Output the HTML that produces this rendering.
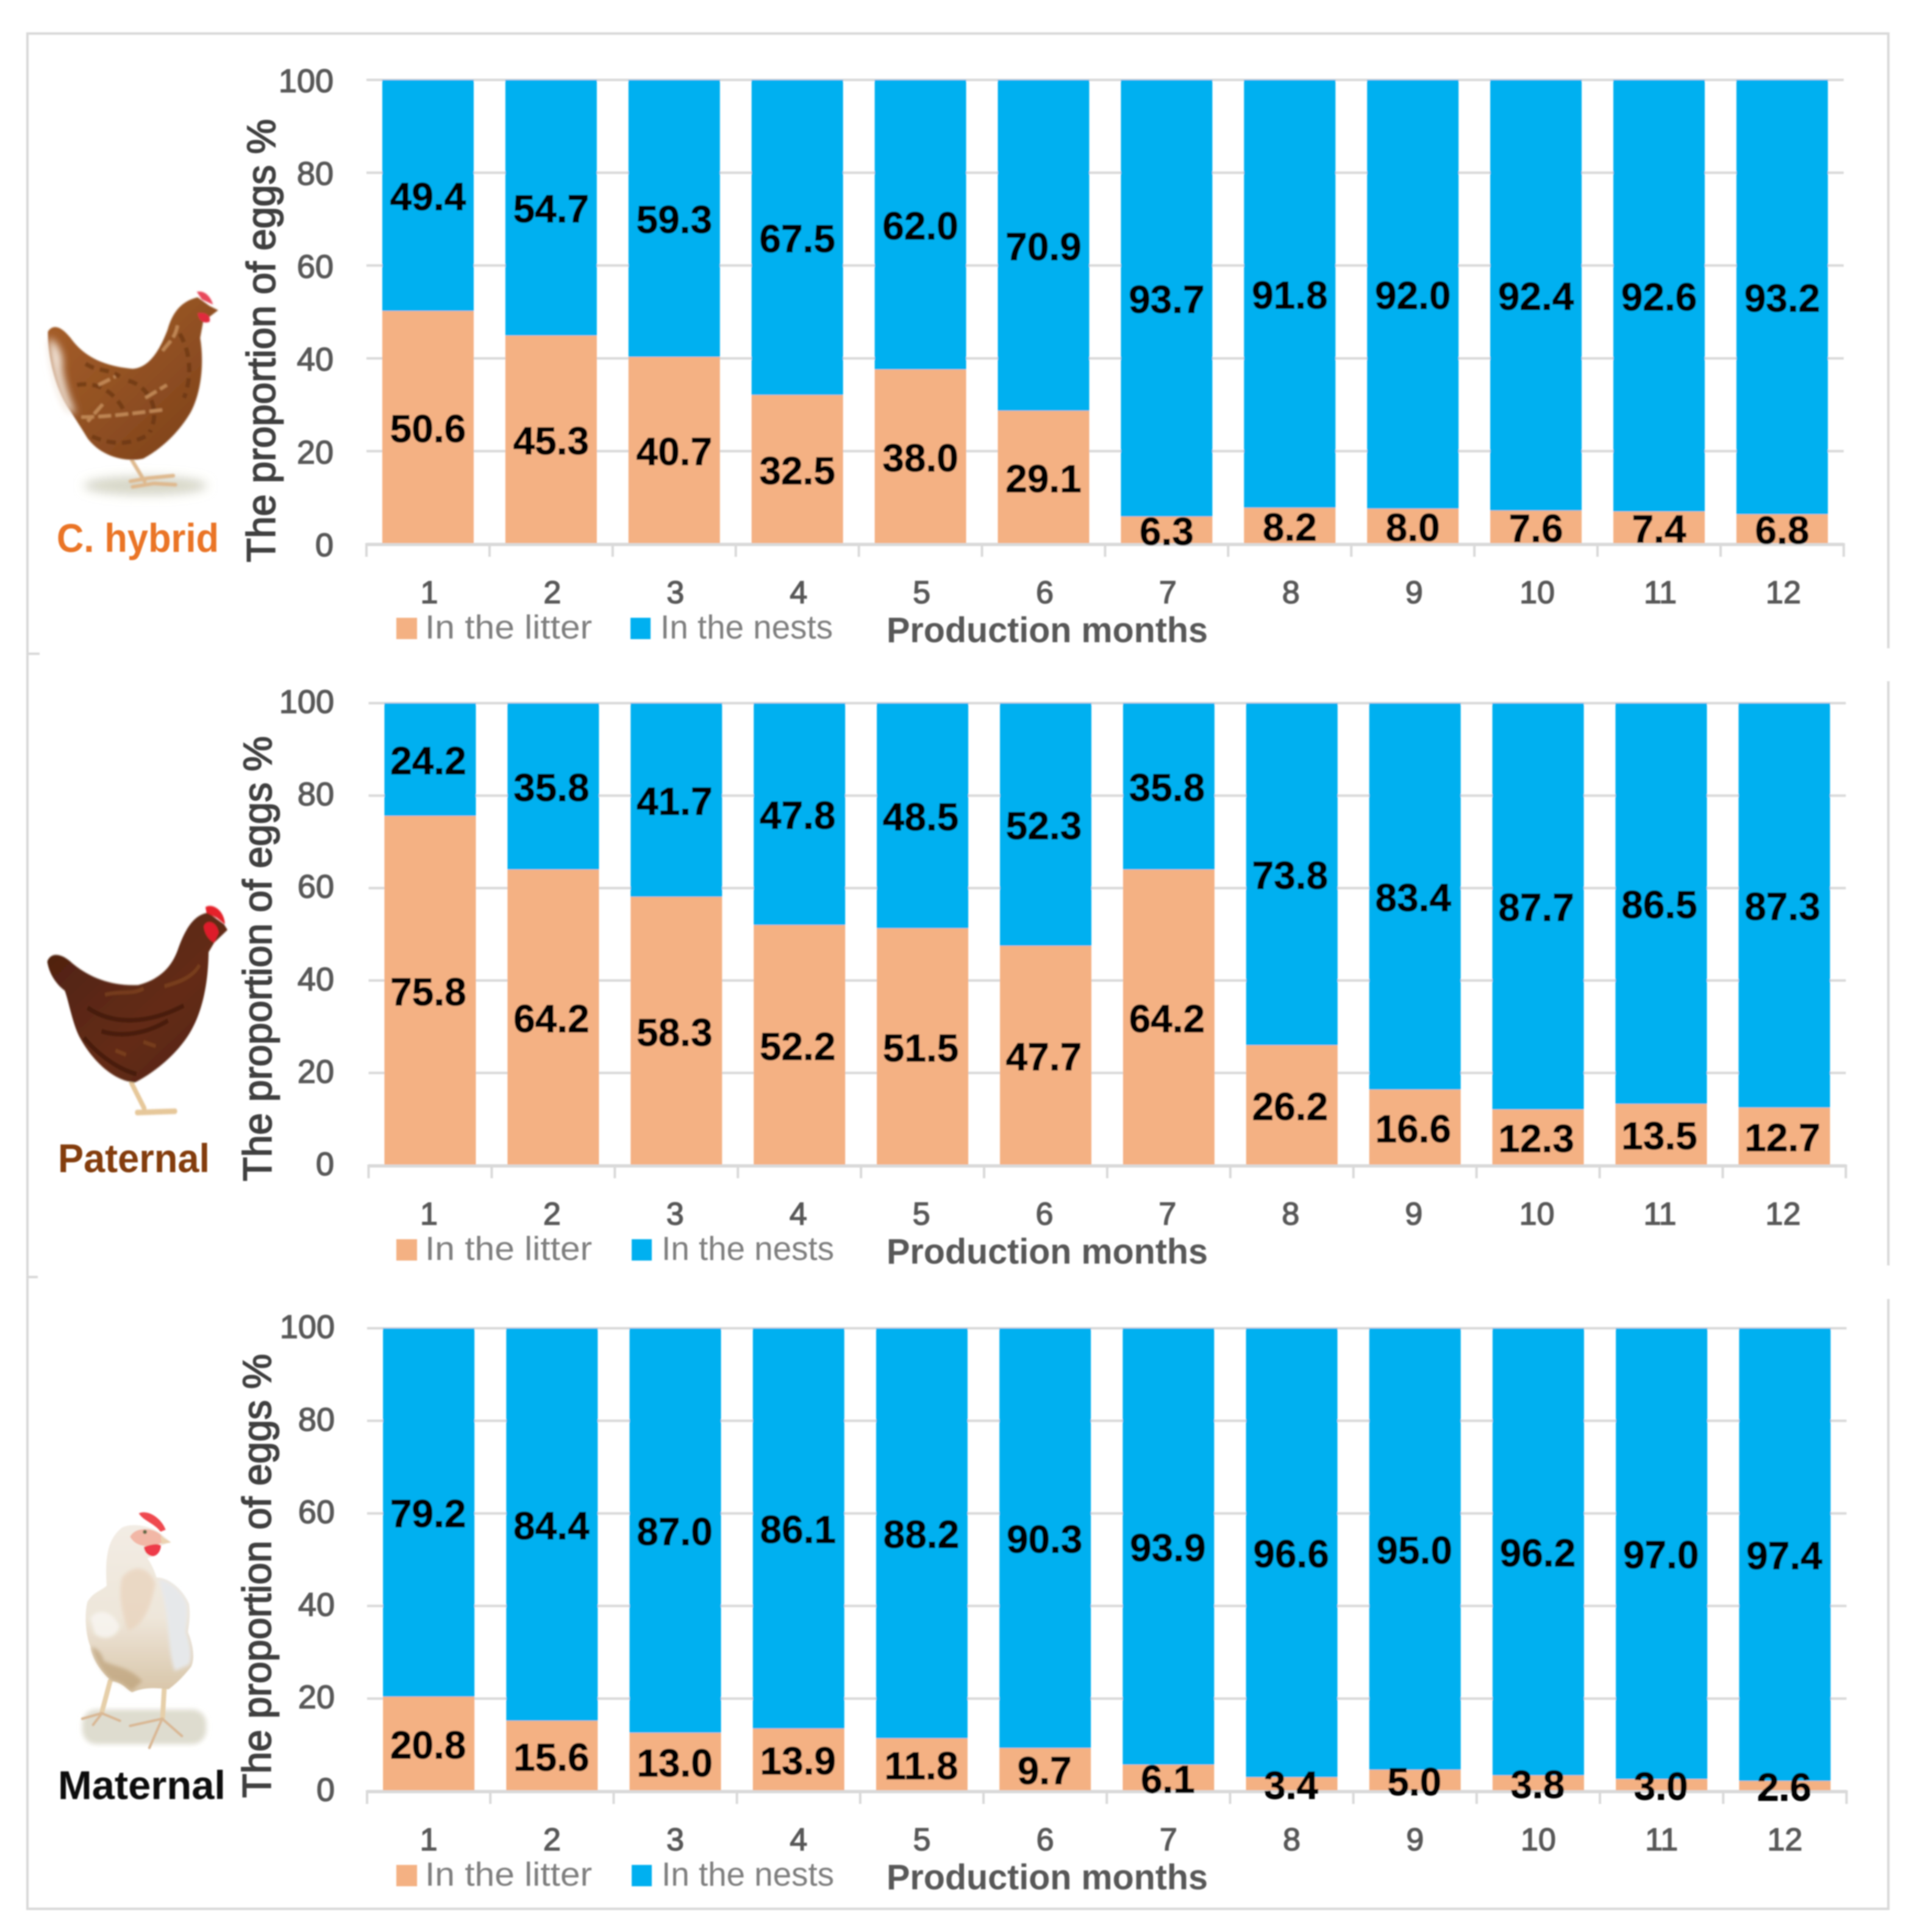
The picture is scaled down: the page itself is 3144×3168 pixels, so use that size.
<!DOCTYPE html>
<html lang="en">
<head>
<meta charset="utf-8">
<title>Proportion of eggs in the litter and in the nests by production month</title>
<style>
html,body{margin:0;padding:0;background:#fff;width:3144px;height:3168px;overflow:hidden}
svg{display:block}
text{font-family:"Liberation Sans",Arial,sans-serif}
</style>
</head>
<body>
<svg id="figure" xmlns="http://www.w3.org/2000/svg" width="3144" height="3168" viewBox="0 0 3144 3168">
<defs>
<filter id="soft" x="-2%" y="-2%" width="104%" height="104%"><feGaussianBlur stdDeviation="1"/></filter>
<filter id="softHen" x="-10%" y="-10%" width="120%" height="120%"><feGaussianBlur stdDeviation="1.6"/></filter>
<filter id="patchBlur" x="-30%" y="-30%" width="160%" height="160%"><feGaussianBlur stdDeviation="9"/></filter>
<filter id="shadowBlur" x="-30%" y="-60%" width="160%" height="220%"><feGaussianBlur stdDeviation="12"/></filter>
<linearGradient id="hybridBody" x1="0" y1="0" x2="1" y2="1"><stop offset="0" stop-color="#a9602a"/><stop offset=".55" stop-color="#8f4f22"/><stop offset="1" stop-color="#7a3d18"/></linearGradient>
<linearGradient id="paternalBody" x1="0" y1="0" x2="1" y2="1"><stop offset="0" stop-color="#4a1f10"/><stop offset=".6" stop-color="#642c14"/><stop offset="1" stop-color="#4d2010"/></linearGradient>
<linearGradient id="maternalBody" x1="0" y1="0" x2="0" y2="1"><stop offset="0" stop-color="#f3ece4"/><stop offset=".55" stop-color="#eee6da"/><stop offset="1" stop-color="#d8c5a8"/></linearGradient>
</defs>
<g id="root" filter="url(#soft)">
<g id="frame" stroke="#d9d9d9" stroke-width="4" fill="none">
<path d="M3097 1063V55H45V3130H3097V2130"/>
<path d="M3097 1117V2075"/>
<path d="M45 1072H65"/>
<path d="M45 2094H62"/>
</g>
<g id="charts"></g>

<g transform="scale(0.7015)" filter="url(#softHen)">
<ellipse cx="340" cy="1135" rx="145" ry="22" fill="#d5d5c6" filter="url(#shadowBlur)"/>
<path d="M305 1070L338 1125M305 1125L345 1118L405 1112M310 1138L360 1130L410 1133" stroke="#dfb98e" stroke-width="9" fill="none" stroke-linecap="round"/>
<path fill="url(#hybridBody)" d="M112 775C125 755 145 765 165 790C190 825 230 855 310 862C350 860 375 815 392 770C402 735 420 705 462 695L490 715L510 725L475 752L468 790C478 850 470 920 445 965C415 1015 375 1050 335 1072C290 1082 235 1065 205 1025C190 1000 180 985 160 955C130 910 110 830 112 775Z"/>
<path fill="#f3e6da" filter="url(#patchBlur)" d="M114 790C135 800 150 830 145 860C150 900 165 940 178 968L155 960C130 915 112 840 114 790Z"/>
<path fill="none" stroke="#5f2e10" stroke-width="10" stroke-dasharray="22 14" opacity=".55" d="M180 900C230 890 270 920 290 960M300 890C340 900 380 950 350 1010M215 1020C260 1040 300 1040 340 1020M420 780C445 820 450 880 430 930M200 850C230 870 250 860 280 880"/>
<path fill="none" stroke="#d39c68" stroke-width="8" stroke-dasharray="30 10" opacity=".7" d="M190 975C250 975 320 965 380 958M240 945L205 985M380 820C395 800 410 790 415 760M230 900L270 880M340 930L390 900"/>
<path fill="#e8465a" d="M460 682C478 678 492 692 498 712L472 700Z"/>
<path fill="#e02c3c" d="M462 732C480 728 494 738 490 752C478 758 464 750 462 732Z"/>
</g>

<g transform="translate(0,1000) scale(0.574,0.7015)" filter="url(#softHen)">
<path d="M375 1105L412 1165M392 1175L500 1172" stroke="#e6c79a" stroke-width="13" fill="none" stroke-linecap="round"/>
<path fill="url(#paternalBody)" d="M135 822C145 800 175 802 205 825C255 860 320 880 395 877C450 865 490 840 510 790C530 745 555 712 595 708L640 735L650 748L612 778L596 800C595 870 580 935 545 985C510 1035 445 1080 385 1105C320 1100 260 1050 225 995C205 960 195 910 185 890C160 875 140 850 135 822Z"/>
<path fill="none" stroke="#2f1208" stroke-width="11" opacity=".5" d="M250 930C320 970 420 970 525 925M290 985C350 1000 420 990 480 960M240 1000C280 1040 340 1075 390 1085"/>
<path fill="none" stroke="#8a4a20" stroke-width="9" opacity=".55" d="M470 880C510 870 550 860 570 830M300 900C340 890 380 900 410 885M330 1030L360 1040M410 1010L445 1020"/>
<path fill="#e5202c" d="M587 695C605 685 640 700 643 735L620 720L590 708Z"/>
<path fill="#dd1f2a" d="M582 740C590 722 620 728 625 755L612 778C598 772 585 760 582 740Z"/>
</g>

<g transform="translate(60,2440) scale(0.3333)" filter="url(#softHen)">
<rect x="225" y="1090" width="610" height="170" rx="70" fill="#dedccf" filter="url(#shadowBlur)"/>
<path fill="none" stroke="#e6cfa9" stroke-width="24" stroke-linecap="round" d="M362 950L322 1100M628 990L620 1130"/>
<path fill="none" stroke="#d9b894" stroke-width="13" stroke-linecap="round" d="M225 1135L320 1108L410 1145M320 1110L278 1165M460 1170L618 1135L715 1220M618 1135L555 1278"/>
<path fill="url(#maternalBody)" d="M345 480C335 340 350 250 420 195C470 170 550 185 600 215L660 265L610 285C600 325 565 340 545 345C570 380 585 420 590 440C650 440 720 500 750 570C760 640 745 690 745 710C770 770 780 840 760 880C720 930 690 960 650 990C600 985 540 975 470 1005C440 990 430 960 370 950C310 900 270 830 265 780C240 720 235 620 250 560C280 510 320 505 345 480Z"/>
<path fill="#e8d2ba" opacity=".7" filter="url(#patchBlur)" d="M420 440C490 360 560 400 585 470C560 600 520 680 450 700C420 620 400 520 420 440Z"/>
<path fill="#e6e8ea" filter="url(#patchBlur)" d="M600 450C650 450 715 505 740 570C745 640 735 700 735 710C760 770 768 840 750 870L680 900C640 800 660 620 600 450Z"/>
<path fill="#b89a70" opacity=".6" filter="url(#patchBlur)" d="M270 780C290 790 320 800 330 850C380 880 460 880 520 950L470 995C440 985 430 955 370 945C315 900 280 830 270 780Z"/>
<path fill="#f8f6f1" opacity=".85" filter="url(#patchBlur)" d="M265 640C300 590 370 600 410 680C390 745 320 750 285 715Z"/>
<path fill="#ef4a50" d="M503 125C540 105 610 140 635 205L610 215C575 170 530 165 503 125Z"/>
<path fill="#f2b7a6" d="M460 240C480 195 560 190 605 225L640 260L590 280C540 290 490 290 460 240Z"/>
<path fill="#ee3b48" d="M528 290C555 280 590 270 612 282C610 315 590 338 565 335C545 330 530 315 528 290Z"/>
<path fill="#ecd2b0" d="M610 235L662 268L615 275Z"/>
<circle cx="533" cy="216" r="10" fill="#5f6a45"/>
</g>

<text x="93" y="905" font-size="66" font-weight="bold" fill="#ea7428" textLength="266" lengthAdjust="spacingAndGlyphs">C. hybrid</text>
<text x="95" y="1922" font-size="66" font-weight="bold" fill="#843c0c" textLength="249" lengthAdjust="spacingAndGlyphs">Paternal</text>
<text x="95" y="2950" font-size="66" font-weight="bold" fill="#0a0a0a" textLength="275" lengthAdjust="spacingAndGlyphs">Maternal</text>
</g>
</svg>
<script>
const months = ['1','2','3','4','5','6','7','8','9','10','11','12'];
const yTicks = [0,20,40,60,80,100];

const hybridLitter = [50.6,45.3,40.7,32.5,38.0,29.1,6.3,8.2,8.0,7.6,7.4,6.8];
const hybridNests = [49.4,54.7,59.3,67.5,62.0,70.9,93.7,91.8,92.0,92.4,92.6,93.2];

const paternalLitter = [75.8,64.2,58.3,52.2,51.5,47.7,64.2,26.2,16.6,12.3,13.5,12.7];
const paternalNests = [24.2,35.8,41.7,47.8,48.5,52.3,35.8,73.8,83.4,87.7,86.5,87.3];

const maternalLitter = [20.8,15.6,13.0,13.9,11.8,9.7,6.1,3.4,5.0,3.8,3.0,2.6];
const maternalNests = [79.2,84.4,87.0,86.1,88.2,90.3,93.9,96.6,95.0,96.2,97.0,97.4];

const NS = 'http://www.w3.org/2000/svg';
const chartsLayer = document.getElementById('charts');

function svgEl(parent, tag, attrs, text) {
  const el = document.createElementNS(NS, tag);
  for (const key in attrs) el.setAttribute(key, attrs[key]);
  if (text !== undefined) el.textContent = text;
  parent.appendChild(el);
  return el;
}

function drawPanel(name, litter, nests, frame) {
  const yScale = v => frame.y0 - (v / 100) * (frame.y0 - frame.y100);
  const xBand = i => frame.x0 + i * frame.pitch;
  const xCenter = i => xBand(i) + frame.pitch / 2;
  const barWidth = 150;

  const panel = svgEl(chartsLayer, 'g', {});
  
  

  yTicks.forEach(t => {
    const grid = svgEl(panel, 'line', {x1: frame.x0, x2: xBand(months.length), y1: yScale(t), y2: yScale(t), stroke: '#d9d9d9', 'stroke-width': 4});
    
    
    const label = svgEl(panel, 'text', {x: frame.tickRight, y: yScale(t) + frame.tickDy, 'font-size': 54, fill: '#595959', stroke: '#595959', 'stroke-width': 1.5, 'text-anchor': 'end'}, String(t));
    
    
  });

  for (let i = 0; i <= months.length; i++) {
    const tick = svgEl(panel, 'line', {x1: xBand(i), x2: xBand(i), y1: frame.y0, y2: frame.y0 + 21, stroke: '#d9d9d9', 'stroke-width': 4});
    
    
  }

  const labels = [];
  months.forEach((month, i) => {
    const left = xCenter(i) - barWidth / 2;
    const litterTop = yScale(litter[i]) + frame.splitDrop;
    const nestTop = yScale(litter[i] + nests[i]);

    const litterBar = svgEl(panel, 'rect', {x: left, y: litterTop, width: barWidth, height: yScale(0) - litterTop, fill: '#f4b183'});
    
    

    const nestBar = svgEl(panel, 'rect', {x: left, y: nestTop, width: barWidth, height: litterTop - nestTop, fill: '#00b0f0'});
    
    

    labels.push({month: month, cx: xCenter(i) + frame.labelDx, cy: (yScale(0) + litterTop) / 2, value: litter[i], series: 'litter'});
    labels.push({month: month, cx: xCenter(i) + frame.labelDx, cy: (litterTop + nestTop) / 2, value: nests[i], series: 'nests'});

    const xLabel = svgEl(panel, 'text', {x: xCenter(i) + frame.xLabelDx, y: frame.y0 + 97, 'font-size': 52, fill: '#595959', stroke: '#595959', 'stroke-width': 1.5, 'text-anchor': 'middle'}, month);
    
    
  });

  const axis = svgEl(panel, 'line', {x1: frame.x0 - 2, x2: xBand(months.length) + 2, y1: frame.y0 + 1, y2: frame.y0 + 1, stroke: '#d9d9d9', 'stroke-width': 5});
  
  

  labels.forEach(item => {
    const valueLabel = svgEl(panel, 'text', {x: item.cx, y: item.cy + 24, 'font-size': 64, 'font-weight': 'bold', fill: '#050505', stroke: '#050505', 'stroke-width': 1, 'text-anchor': 'middle'}, item.value.toFixed(1));
    
    
  });

  const yTitle = svgEl(panel, 'text', {transform: 'translate(' + frame.titleX + ',' + frame.titleBottom + ') rotate(-90)', 'font-size': 66, fill: '#404040', stroke: '#404040', 'stroke-width': 1.8, textLength: frame.titleLength, lengthAdjust: 'spacingAndGlyphs'}, 'The proportion of eggs %');
  
  

  const xTitle = svgEl(panel, 'text', {x: 1454, y: frame.y0 + 161, 'font-size': 58, 'font-weight': 'bold', fill: '#595959', textLength: 527, lengthAdjust: 'spacingAndGlyphs'}, 'Production months');
  
  

  const litterSwatch = svgEl(panel, 'rect', {x: 650, y: frame.y0 + 121, width: 34, height: 35, fill: '#f4b183'});
  
  

  const litterLegend = svgEl(panel, 'text', {x: 697, y: frame.y0 + 155, 'font-size': 55, fill: '#7f7f7f', textLength: 274, lengthAdjust: 'spacingAndGlyphs'}, 'In the litter');
  
  

  const nestsSwatch = svgEl(panel, 'rect', {x: frame.legendX, y: frame.y0 + 121, width: 33, height: 35, fill: '#00b0f0'});
  
  

  const nestsLegend = svgEl(panel, 'text', {x: frame.legendX + 49, y: frame.y0 + 155, 'font-size': 55, fill: '#7f7f7f', textLength: 283, lengthAdjust: 'spacingAndGlyphs'}, 'In the nests');
  
  
}

drawPanel('hybrid', hybridLitter, hybridNests, {y100: 131, y0: 892, x0: 601, pitch: 201.9, tickRight: 547, tickDy: 20, titleX: 451, titleBottom: 922, titleLength: 727, legendX: 1034, splitDrop: 3, labelDx: 0, xLabelDx: 2});
drawPanel('paternal', paternalLitter, paternalNests, {y100: 1153, y0: 1911, x0: 604.5, pitch: 201.9, tickRight: 548, tickDy: 16, titleX: 445, titleBottom: 1937, titleLength: 730, legendX: 1036, splitDrop: 1.5, labelDx: -3, xLabelDx: -2});
drawPanel('maternal', maternalLitter, maternalNests, {y100: 2178, y0: 2937, x0: 602, pitch: 202.2, tickRight: 549, tickDy: 16, titleX: 444, titleBottom: 2948, titleLength: 728, legendX: 1036, splitDrop: 3, labelDx: -1, xLabelDx: 0});
</script>
</body>
</html>
